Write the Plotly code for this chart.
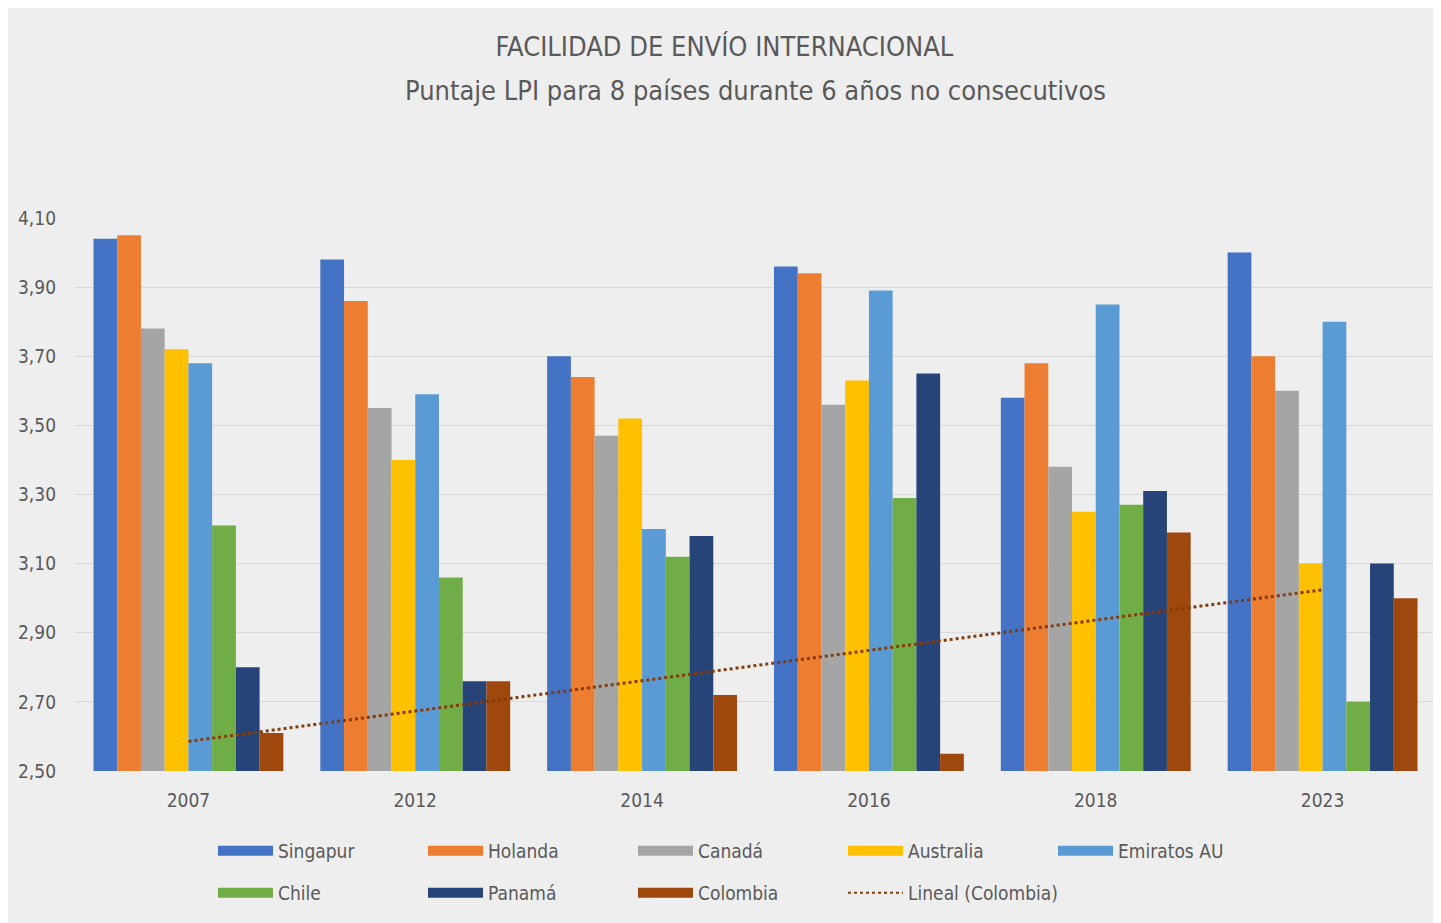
import numpy as np
import plotly.graph_objects as go

years = ["2007", "2012", "2014", "2016", "2018", "2023"]
countries = ["Singapur", "Holanda", "Canadá", "Australia", "Emiratos AU", "Chile", "Panamá", "Colombia"]

singapur = [4.04, 3.98, 3.70, 3.96, 3.58, 4.00]
holanda = [4.05, 3.86, 3.64, 3.94, 3.68, 3.70]
canada = [3.78, 3.55, 3.47, 3.56, 3.38, 3.60]
australia = [3.72, 3.40, 3.52, 3.63, 3.25, 3.10]
emiratos = [3.68, 3.59, 3.20, 3.89, 3.85, 3.80]
chile = [3.21, 3.06, 3.12, 3.29, 3.27, 2.70]
panama = [2.80, 2.76, 3.18, 3.65, 3.31, 3.10]
colombia = [2.61, 2.76, 2.72, 2.55, 3.19, 3.00]

series = [singapur, holanda, canada, australia, emiratos, chile, panama, colombia]
colors = ["#4472C4", "#ED7D31", "#A5A5A5", "#FFC000", "#5B9BD5", "#70AD47", "#264478", "#9E480E"]

y_ticks = [2.5, 2.7, 2.9, 3.1, 3.3, 3.5, 3.7, 3.9, 4.1]

FONT = "Liberation Sans Narrow, DejaVu Sans Condensed, Open Sans, sans-serif"
TXT = "#595959"

# linear trend for Colombia (Excel "Lineal")
xi = np.arange(1, len(years) + 1)
slope, intercept = np.polyfit(xi, colombia, 1)
trend = slope * xi + intercept

fig = go.Figure()
for name, vals, col in zip(countries, series, colors):
    fig.add_trace(go.Bar(x=years, y=vals, name=name, marker=dict(color=col, line=dict(width=0)),
                         showlegend=False))

fig.add_trace(go.Scatter(x=years, y=trend, mode="lines", name="Lineal (Colombia)",
                         line=dict(color="#843C0C", width=3, dash="dot"), showlegend=False))

# legend entries (wide swatches like the original)
for i, (name, col) in enumerate(zip(countries, colors)):
    fig.add_trace(go.Scatter(x=[None], y=[None], mode="lines", name=name,
                             line=dict(color=col, width=12),
                             legend="legend" if i < 5 else "legend2"))
fig.add_trace(go.Scatter(x=[None], y=[None], mode="lines", name="Lineal (Colombia)",
                         line=dict(color="#843C0C", width=2, dash="dot"), legend="legend2",
                         legendwidth=220))

leg_common = dict(orientation="h", xanchor="left", yanchor="middle", itemwidth=55,
                  entrywidth=140, entrywidthmode="pixels",
                  font=dict(family=FONT, size=19, color=TXT), bgcolor="rgba(0,0,0,0)",
                  itemclick=False, itemdoubleclick=False)

# the page body has an 8px margin: the figure is shrunk by it so that it fills the window
W, H, OFF = 1441, 923, 8

fig.update_layout(
    width=W - OFF, height=H - OFF,
    margin=dict(l=75 - OFF, r=5, t=218 - OFF, b=152),
    paper_bgcolor="#FFFFFF",
    plot_bgcolor="rgba(0,0,0,0)",
    separators=",.",
    barmode="group",
    bargap=0.163,
    bargroupgap=0,
    font=dict(family=FONT, color=TXT),
    title=dict(text="FACILIDAD DE ENVÍO INTERNACIONAL", x=0.5, xanchor="center",
               y=1 - (47 - OFF) / (H - OFF), yref="container", yanchor="middle",
               font=dict(family=FONT, size=27, color=TXT)),
    annotations=[dict(text="Puntaje LPI para 8 países durante 6 años no consecutivos",
                      xref="paper", yref="paper", x=0.5, y=(771 - 90) / 553,
                      xanchor="center", yanchor="middle", showarrow=False,
                      font=dict(family=FONT, size=27, color=TXT))],
    xaxis=dict(type="category", showgrid=False, showline=False, ticks="",
               ticklabelstandoff=16,
               tickfont=dict(family=FONT, size=19, color=TXT)),
    yaxis=dict(range=[2.5, 4.1], tickvals=y_ticks, tickformat=".2f", showgrid=True,
               gridcolor="#D9D9D9", gridwidth=1, zeroline=False, showline=False,
               ticks="", ticklabelstandoff=18,
               tickfont=dict(family=FONT, size=19, color=TXT)),
    legend=dict(x=(213 - 75) / 1361, y=(771 - 851) / 553, **leg_common),
    legend2=dict(x=(213 - 75) / 1361, y=(771 - 893) / 553, **leg_common),
    shapes=[dict(type="rect", xref="paper", yref="paper", layer="below",
                 x0=(7 - 75) / 1361, x1=(1441 - 75) / 1361 + 0.01,
                 y0=(771 - 930) / 553, y1=(771 - 4) / 553,
                 fillcolor="#EEEEEE", line=dict(width=0))],
)

fig.write_html("out.html")
